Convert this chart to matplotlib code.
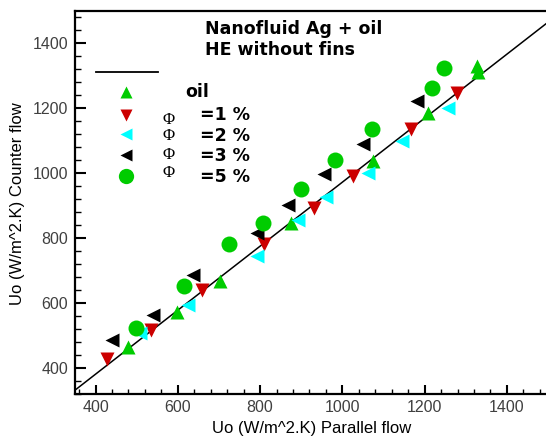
import matplotlib
matplotlib.use("Agg")
import matplotlib.pyplot as plt
from matplotlib.lines import Line2D
from matplotlib.ticker import MultipleLocator
import numpy as np

plt.rcParams['font.family'] = ['Liberation Sans', 'DejaVu Sans']

# Overall heat transfer coefficient, parallel flow (x) vs counter flow (y)
oil_x = [478, 597, 702, 874, 1074, 1208, 1327, 1329]
oil_y = [466, 572, 670, 848, 1038, 1187, 1330, 1312]

phi1_x = [428, 535, 658, 809, 931, 1025, 1167, 1278]
phi1_y = [430, 519, 640, 783, 895, 992, 1136, 1249]

phi2_x = [508, 625, 792, 893, 960, 1063, 1144, 1258]
phi2_y = [508, 594, 746, 858, 928, 1002, 1101, 1200]

phi3_x = [439, 539, 637, 793, 869, 955, 1049, 1182]
phi3_y = [486, 564, 688, 817, 904, 997, 1091, 1222]

phi5_x = [498, 616, 725, 806, 899, 982, 1071, 1217, 1246]
phi5_y = [525, 652, 783, 848, 953, 1040, 1137, 1264, 1326]

# Linear fit line
fit_slope = 0.985
fit_intercept = -12.0

x_ticks = [400, 600, 800, 1000, 1200, 1400]
y_ticks = [400, 600, 800, 1000, 1200, 1400]
legend_labels = ["oil", "=1 %", "=2 %", "=3 %", "=5 %"]

W, H = 546, 442
fig = plt.figure(figsize=(W / 100, H / 100), dpi=100)
ax = fig.add_axes([75 / W, 1 - 394.3 / H, (548 - 75) / W, (394.3 - 11) / H])

GREEN = '#00cc00'
RED = '#cc0000'
CYAN = '#00ffff'

xl = np.array([350, 1500])
ax.plot(xl, fit_slope * xl + fit_intercept, color='black', lw=1.1, zorder=2)

ax.plot(oil_x, oil_y, '^', color=GREEN, ms=10.5, mec='none', zorder=3)
ax.plot(phi1_x, phi1_y, 'v', color=RED, ms=10, mec='none', zorder=3)
ax.plot(phi2_x, phi2_y, '<', color=CYAN, ms=10, mec='none', zorder=3)
ax.plot(phi3_x, phi3_y, '<', color='black', ms=10, mec='none', zorder=3)
ax.plot(phi5_x, phi5_y, 'o', color=GREEN, ms=11.5, mec='none', zorder=3)

ax.set_xlim(350, 1500)
ax.set_ylim(320, 1500)
ax.set_xticks(x_ticks)
ax.set_yticks(y_ticks)
ax.xaxis.set_minor_locator(MultipleLocator(40))
ax.yaxis.set_minor_locator(MultipleLocator(40))

ax.tick_params(axis='both', which='both', direction='in', colors='black',
               labelcolor='#404040', labelsize=11.5)
ax.tick_params(axis='x', which='major', length=6.5, width=1.5, pad=4)
ax.tick_params(axis='x', which='minor', length=3.5, width=1)
ax.tick_params(axis='y', which='major', length=8, width=1.5, pad=5)
ax.tick_params(axis='y', which='minor', length=4.5, width=1)
ax.tick_params(top=False, right=False, which='both')

for s in ax.spines.values():
    s.set_linewidth(1.6)

def fx(px):
    return px / W

def fy(py):
    return 1 - py / H

fig.text(fx(311.5), fy(429), "Uo (W/m^2.K) Parallel flow", ha='center', va='center',
         fontsize=12, color='black')
fig.text(fx(17.5), fy(204), "Uo (W/m^2.K) Counter flow", ha='center', va='center',
         rotation=90, fontsize=12, color='black')

bold_font = dict(fontsize=12.5, fontweight='bold', family=['DejaVu Sans'])

fig.text(fx(205), fy(29), "Nanofluid Ag + oil", ha='left', va='center', **bold_font)
fig.text(fx(205), fy(50), "HE without fins", ha='left', va='center', **bold_font)

# Legend drawn by hand
fig.add_artist(Line2D([fx(96), fx(158)], [fy(71.5), fy(71.5)], color='black', lw=1.3))
leg_markers = [('^', GREEN, 9), ('v', RED, 9), ('<', CYAN, 9), ('<', 'black', 9), ('o', GREEN, 11)]
leg_y = [92, 115, 134, 155, 176]
for (m, c, s), y in zip(leg_markers, leg_y):
    fig.add_artist(Line2D([fx(126)], [fy(y)], marker=m, color=c, ms=s, mec='none', ls='none'))

fig.text(fx(185), fy(92), legend_labels[0], ha='left', va='center', **bold_font)
text_y = [115, 136, 155.5, 176.5]
phi_y = [120, 136, 155, 173]
for lab, ty, py in zip(legend_labels[1:], text_y, phi_y):
    fig.text(fx(200), fy(ty), lab, ha='left', va='center', **bold_font)
    fig.text(fx(169), fy(py), "Φ", ha='center', va='center', fontsize=12,
             family=['Liberation Serif', 'DejaVu Serif'])

fig.savefig("out.png", dpi=100)
